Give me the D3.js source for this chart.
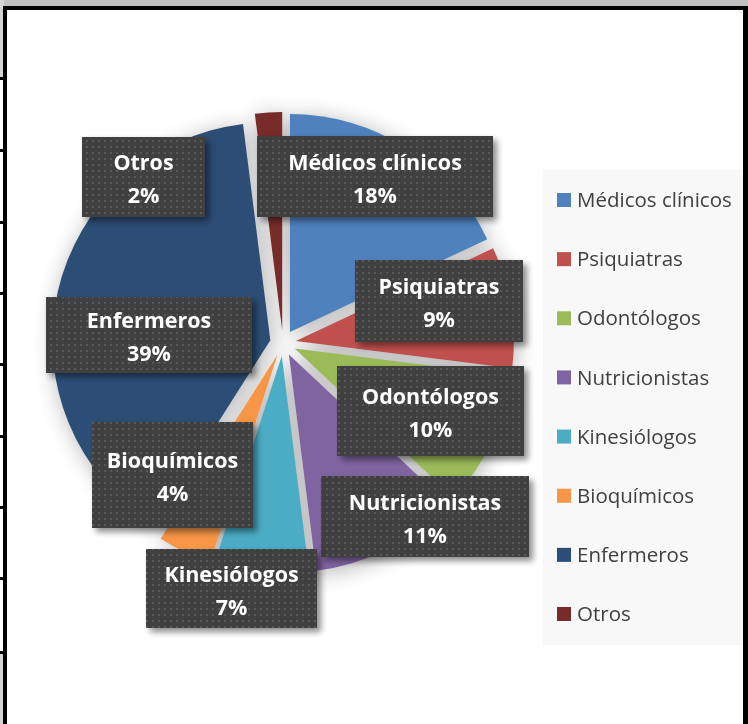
<!DOCTYPE html>
<html>
<head>
<meta charset="utf-8">
<script src="https://cdn.jsdelivr.net/npm/d3@7"></script>
<style>
  body { margin: 0; background: #fff; }
  svg { display: block; }
</style>
</head>
<body>
<div id="chart"></div>
<script>
// Data
const categories = ["Médicos clínicos", "Psiquiatras", "Odontólogos", "Nutricionistas",
                    "Kinesiólogos", "Bioquímicos", "Enfermeros", "Otros"];
const values = [18, 9, 10, 11, 7, 4, 39, 2];
const colors = ["#4F81BD", "#C0504D", "#9BBB59", "#8064A2",
                "#4BACC6", "#F79646", "#2C4D75", "#772C2A"];

// Manually placed data-label boxes (x, y, w, h), same order as categories
const labelBoxes = [
    [257, 136, 236, 81],
    [355, 260, 168, 82],
    [337, 366, 187, 90],
    [321, 476, 208, 81],
    [146, 549, 171, 79],
    [92, 422, 161, 106],
    [46, 297, 206, 76],
    [82, 137, 123, 80]
];

const width = 748, height = 724;
const cx = 283, cy = 343, radius = 218, explode = 13;

const svg = d3.select("#chart").append("svg")
    .attr("width", width)
    .attr("height", height);

const defs = svg.append("defs");

// soft shadow under the pie
const pieShadow = defs.append("filter").attr("id", "pieShadow")
    .attr("x", "-30%").attr("y", "-30%").attr("width", "160%").attr("height", "160%");
pieShadow.append("feGaussianBlur").attr("in", "SourceAlpha").attr("stdDeviation", 11);
pieShadow.append("feOffset").attr("dx", 2).attr("dy", 3).attr("result", "b");
pieShadow.append("feComponentTransfer").append("feFuncA").attr("type", "linear").attr("slope", 0.3);

// shadow for label boxes
const boxShadow = defs.append("filter").attr("id", "boxShadow")
    .attr("x", "-20%").attr("y", "-20%").attr("width", "140%").attr("height", "150%");
boxShadow.append("feGaussianBlur").attr("in", "SourceAlpha").attr("stdDeviation", 3);
boxShadow.append("feOffset").attr("dx", 4).attr("dy", 4).attr("result", "off");
boxShadow.append("feComponentTransfer").attr("result", "sh")
    .append("feFuncA").attr("type", "linear").attr("slope", 0.45);
const merge = boxShadow.append("feMerge");
merge.append("feMergeNode").attr("in", "sh");
merge.append("feMergeNode").attr("in", "SourceGraphic");

// dotted texture for label boxes
const dots = defs.append("pattern").attr("id", "dots")
    .attr("width", 6).attr("height", 6).attr("patternUnits", "userSpaceOnUse");
dots.append("rect").attr("width", 6).attr("height", 6).attr("fill", "#404040");
dots.append("rect").attr("x", 2).attr("y", 2).attr("width", 2).attr("height", 2).attr("fill", "#585858");

// sheet frame (grey bands at the edges)
svg.append("rect").attr("x", 0).attr("y", 0).attr("width", width).attr("height", 7).attr("fill", "#c0c0c0");
svg.append("rect").attr("x", 0).attr("y", 0).attr("width", 4).attr("height", 78).attr("fill", "#d4d4d4");
svg.append("rect").attr("x", 0).attr("y", 652).attr("width", 4).attr("height", 72).attr("fill", "#d4d4d4");

// pie
const pieData = d3.pie().sort(null).value(d => d)(values);
const arc = d3.arc().innerRadius(0).outerRadius(radius);
const offset = d => {
    const a = (d.startAngle + d.endAngle) / 2;
    return [Math.sin(a) * explode, -Math.cos(a) * explode];
};

const pieG = svg.append("g").attr("transform", `translate(${cx},${cy})`);

pieG.append("g").attr("filter", "url(#pieShadow)")
    .selectAll("path")
    .data(pieData)
    .join("path")
    .attr("d", arc)
    .attr("transform", d => `translate(${offset(d)})`)
    .attr("fill", "#000");

pieG.append("g")
    .selectAll("path")
    .data(pieData)
    .join("path")
    .attr("d", arc)
    .attr("transform", d => `translate(${offset(d)})`)
    .attr("fill", (d, i) => colors[i]);

// data labels
const labels = svg.append("g").selectAll("g")
    .data(pieData)
    .join("g");

labels.append("rect")
    .attr("x", (d, i) => labelBoxes[i][0])
    .attr("y", (d, i) => labelBoxes[i][1])
    .attr("width", (d, i) => labelBoxes[i][2])
    .attr("height", (d, i) => labelBoxes[i][3])
    .attr("fill", "url(#dots)")
    .attr("filter", "url(#boxShadow)");

const labelText = labels.append("text")
    .attr("text-anchor", "middle")
    .attr("fill", "#fff")
    .style("font-family", "'Open Sans', 'Noto Sans', sans-serif")
    .style("font-weight", "bold")
    .style("font-size", "21.5px");

labelText.append("tspan")
    .attr("x", (d, i) => labelBoxes[i][0] + labelBoxes[i][2] / 2)
    .attr("y", (d, i) => labelBoxes[i][1] + labelBoxes[i][3] / 2 - 7)
    .text((d, i) => categories[i]);

labelText.append("tspan")
    .attr("x", (d, i) => labelBoxes[i][0] + labelBoxes[i][2] / 2)
    .attr("y", (d, i) => labelBoxes[i][1] + labelBoxes[i][3] / 2 + 26)
    .text(d => d.value + "%");

// legend
svg.append("rect")
    .attr("x", 543).attr("y", 170)
    .attr("width", 201).attr("height", 475)
    .attr("fill", "#f8f8f8");

const legendY = d3.scalePoint().domain(categories).range([200, 614]);

const legend = svg.append("g").selectAll("g")
    .data(categories)
    .join("g")
    .attr("transform", d => `translate(557,${legendY(d)})`);

legend.append("rect")
    .attr("x", 0).attr("y", -7)
    .attr("width", 14).attr("height", 14)
    .attr("fill", (d, i) => colors[i]);

legend.append("text")
    .attr("x", 20)
    .attr("dy", "0.35em")
    .attr("fill", "#404040")
    .style("font-family", "'Open Sans', 'Noto Sans', sans-serif")
    .style("font-size", "20.5px")
    .text(d => d);

// borders on top
svg.append("rect").attr("x", 3).attr("y", 6).attr("width", width - 3).attr("height", 4).attr("fill", "#000");
svg.append("rect").attr("x", 3).attr("y", 6).attr("width", 4).attr("height", height - 6).attr("fill", "#000");
svg.append("rect").attr("x", 743).attr("y", 6).attr("width", 5).attr("height", height - 6).attr("fill", "#000");

const rowMarks = [78, 150, 222, 293, 364, 436, 507, 578, 652];
svg.append("g").selectAll("rect")
    .data(rowMarks)
    .join("rect")
    .attr("x", 0).attr("y", d => d - 1)
    .attr("width", 7).attr("height", 3)
    .attr("fill", "#000");
</script>
</body>
</html>
